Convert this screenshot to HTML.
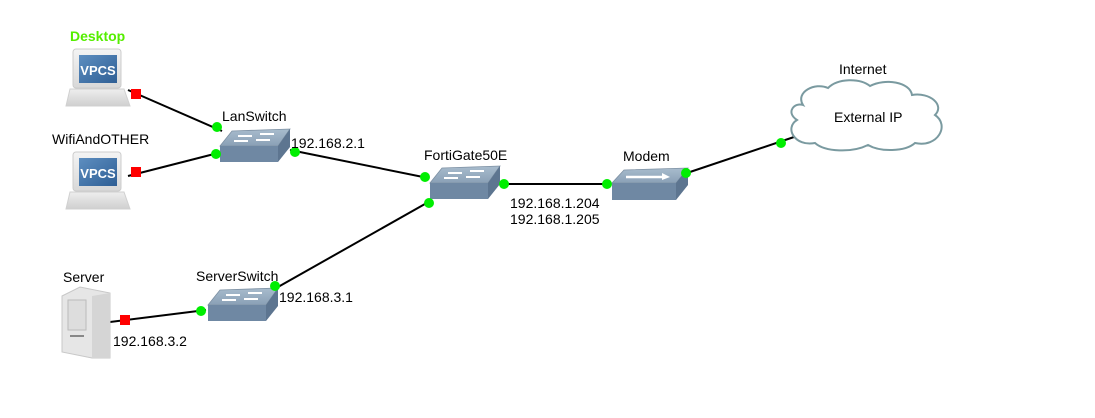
<!DOCTYPE html>
<html><head><meta charset="utf-8"><style>
html,body{margin:0;padding:0;background:#fff;width:1095px;height:418px;overflow:hidden}
text{font-family:"Liberation Sans",sans-serif;font-size:14px;fill:#000}
</style></head><body>
<svg width="1095" height="418" viewBox="0 0 1095 418" xmlns="http://www.w3.org/2000/svg">
<defs>
<linearGradient id="top" x1="0" y1="0" x2="0" y2="1"><stop offset="0" stop-color="#a8bccd"/><stop offset="1" stop-color="#8aa0b6"/></linearGradient>
<linearGradient id="mon" x1="0" y1="0" x2="0" y2="1"><stop offset="0" stop-color="#f4f4f4"/><stop offset="1" stop-color="#d8d8d8"/></linearGradient>
<linearGradient id="scr" x1="0" y1="0" x2="1" y2="1"><stop offset="0" stop-color="#5d8ec0"/><stop offset="1" stop-color="#2f5f95"/></linearGradient>
<linearGradient id="base" x1="0" y1="0" x2="0" y2="1"><stop offset="0" stop-color="#eee"/><stop offset="1" stop-color="#cfcfcf"/></linearGradient>
<g id="sw">
<polygon points="12,2 70,0 58,17 0,17" fill="url(#top)" stroke="#7d90a3" stroke-width="0.8"/>
<rect x="0" y="17" width="58" height="16" fill="#6f88a3"/>
<polygon points="58,17 70,0 70,18 58,33" fill="#5d7590"/>
<path d="M18,7 h14 M40,5 h14 M14,12 h14 M36,11 h14" stroke="#fff" stroke-width="2"/>
</g>
<g id="pc">
<rect x="7" y="0" width="48" height="39" rx="3" fill="url(#mon)" stroke="#ccc"/>
<rect x="13" y="6" width="38" height="28" fill="url(#scr)"/>
<text x="32" y="26" text-anchor="middle" style="fill:#fff;font-weight:bold;font-size:13px">VPCS</text>
<polygon points="4,40 58,40 64,57 0,57" fill="url(#base)" stroke="#d0d0d0"/>
</g>
</defs>
<g stroke="#000" stroke-width="2" fill="none">
<line x1="128" y1="90" x2="222" y2="131"/>
<line x1="128" y1="176" x2="222" y2="152"/>
<line x1="290" y1="150" x2="428" y2="178"/>
<line x1="432" y1="200" x2="278" y2="287"/>
<line x1="500" y1="184" x2="610" y2="184"/>
<line x1="684" y1="174" x2="800" y2="135"/>
<line x1="110" y1="322" x2="206" y2="310"/>
</g>
<use href="#pc" x="66" y="49"/>
<use href="#pc" x="66" y="152"/>
<use href="#sw" x="220" y="129"/>
<use href="#sw" x="430" y="166"/>
<use href="#sw" x="208" y="288"/>
<g transform="translate(612,168)">
<polygon points="12,2 76,0 64,15 0,15" fill="url(#top)" stroke="#7d90a3" stroke-width="0.8"/>
<rect x="0" y="15" width="64" height="17" fill="#6f88a3"/>
<polygon points="64,15 76,0 76,17 64,32" fill="#5d7590"/>
<path d="M14,9 h38" stroke="#fff" stroke-width="2.5"/><polygon points="50,5 58,9 50,12" fill="#fff"/>
</g>
<g>
<polygon points="62,296 80,287 110,293 110,358 92,358 62,352" fill="#e6e6e6" stroke="#c8c8c8"/>
<polygon points="92,296 110,293 110,358 92,358" fill="#d5d5d5"/>
<rect x="68" y="300" width="18" height="30" fill="#ddd" stroke="#bbb"/>
<rect x="70" y="335" width="14" height="2" fill="#888"/>
</g>
<path d="M803,105 C795,92 815,82 828,88 C838,78 860,78 870,86 C885,78 910,82 912,95 C930,92 945,105 935,115 C950,125 938,148 915,143 C905,152 880,152 868,145 C852,153 825,152 815,143 C795,147 784,128 797,120 C785,112 795,102 803,105 Z" fill="#fff" stroke="#7a9aa0" stroke-width="2"/>
<g fill="#f00"><rect x="131" y="89" width="10" height="10"/><rect x="131" y="167" width="10" height="10"/><rect x="120" y="315" width="10" height="10"/></g>
<g fill="#00ee00"><circle cx="217" cy="127" r="5"/><circle cx="216" cy="154" r="5"/><circle cx="295" cy="152" r="5"/><circle cx="425" cy="177" r="5"/><circle cx="429" cy="203" r="5"/><circle cx="504" cy="184" r="5"/><circle cx="607" cy="184" r="5"/><circle cx="686" cy="173" r="5"/><circle cx="781" cy="143" r="5"/><circle cx="275" cy="286" r="5"/><circle cx="201" cy="311" r="5"/></g>
<text x="70" y="41" style="fill:#55ee00;font-weight:bold">Desktop</text>
<text x="52" y="144">WifiAndOTHER</text>
<text x="222" y="121">LanSwitch</text>
<text x="291" y="148">192.168.2.1</text>
<text x="424" y="160">FortiGate50E</text>
<text x="623" y="161">Modem</text>
<text x="510" y="208">192.168.1.204</text>
<text x="510" y="224">192.168.1.205</text>
<text x="839" y="74">Internet</text>
<text x="834" y="122">External IP</text>
<text x="63" y="282">Server</text>
<text x="196" y="281">ServerSwitch</text>
<text x="279" y="302">192.168.3.1</text>
<text x="113" y="346">192.168.3.2</text>
</svg>
</body></html>
